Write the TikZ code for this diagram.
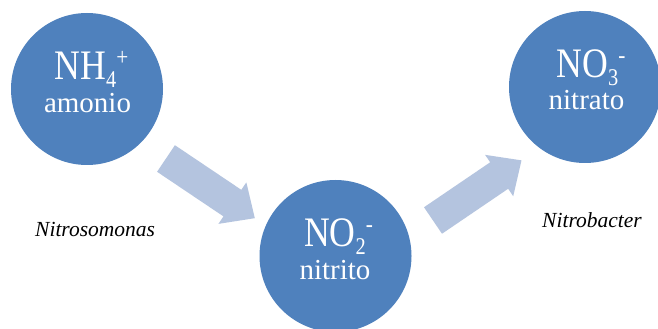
\documentclass[tikz,border=0pt]{standalone}
\usepackage{fontspec}
\setmainfont{Liberation Serif}
\definecolor{circblue}{HTML}{4F81BD}
\definecolor{arrblue}{HTML}{B4C4DF}
\newcommand\chsub[1]{\raisebox{-8pt}{\fontsize{24}{24}\selectfont #1}}
\newcommand\chsup[1]{\raisebox{14pt}{\fontsize{25}{25}\selectfont #1}}
\begin{document}
\begin{tikzpicture}[x=1pt,y=1pt,
  species/.style={circle,fill=circblue,minimum size=152pt,inner sep=0pt},
  bigtxt/.style={text=white,inner sep=0pt,anchor=base,font=\fontsize{42}{42}\selectfont},
  smalltxt/.style={text=white,inner sep=0pt,anchor=base,font=\fontsize{29}{29}\selectfont},
  bact/.style={inner sep=0pt,anchor=base west,font=\fontsize{21.5}{21.5}\selectfont\itshape},
  blockarrow/.style={fill=arrblue}]
\useasboundingbox (0,0) rectangle (658,329);
\clip (0,0) rectangle (658,329);
\fill[white] (0,0) rectangle (658,329);
% circles
\node[species] (amonio) at (87,240) {};
\node[species] (nitrito) at (335.5,73) {};
\node[species] (nitrato) at (585,242) {};
% texts
\node[bigtxt] (t1) at (91.5,249) {\scalebox{0.85}[1]{NH\chsub{4}\chsup{+}}};
\node[smalltxt] (t1b) at (87.5,216) {amonio};
\node[bigtxt] (t2) at (338.5,82) {\scalebox{0.85}[1]{NO\chsub{2}\chsup{-}}};
\node[smalltxt] (t2b) at (335,49) {nitrito};
\node[bigtxt] (t3) at (591,251) {\scalebox{0.85}[1]{NO\chsub{3}\chsup{-}}};
\node[smalltxt] (t3b) at (586.5,219) {nitrato};
% block arrows
\begin{scope}[shift={(166,170.5)},rotate=-33.9]
  \fill[blockarrow] (0,16) -- (80,16) -- (80,25) -- (107,0) -- (80,-25) -- (80,-16) -- (0,-16) -- cycle;
\end{scope}
\begin{scope}[shift={(433,108.5)},rotate=34.2]
  \fill[blockarrow] (0,16) -- (80,16) -- (80,25) -- (107,0) -- (80,-25) -- (80,-16) -- (0,-16) -- cycle;
\end{scope}
% bacteria labels
\node[bact] (nsm) at (35,92) {Nitrosomonas};
\node[bact] (nbc) at (542,101) {Nitrobacter};
\end{tikzpicture}
\end{document}
